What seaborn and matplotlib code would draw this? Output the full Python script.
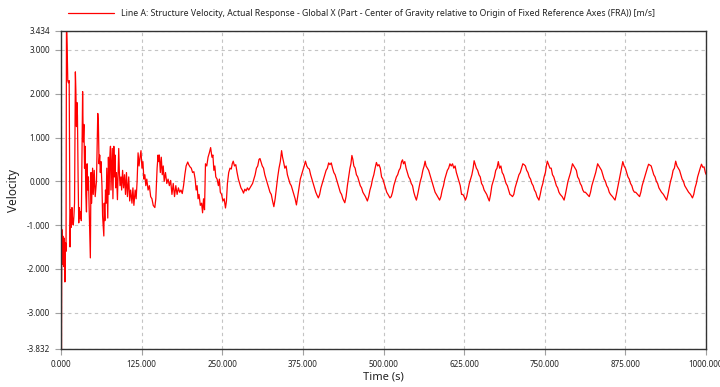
import matplotlib
matplotlib.use("Agg")
import matplotlib.pyplot as plt
import seaborn as sns
import pandas as pd

# ---------------- data ----------------
t1 = [0, 0.7, 1.3, 2.0, 2.8, 3.6, 4.4, 5.2, 6.0, 7.0,
      7.8, 8.5, 9.5, 10.5, 11.5, 12.7, 13.3, 14.0, 15.0, 16.0,
      17.0, 18.0, 19.0, 20.0, 21.0, 22.3, 23.0, 24.0, 24.7, 25.5,
      26.5, 27.5, 28.5, 29.5, 30.5, 31.5, 33.5, 34.5, 35.5, 36.5,
      37.5, 38.5, 39.5, 40.5, 41.5, 42.5, 43.5, 45.5, 46.5, 47.5,
      49.0, 50.0, 51.5, 53.0, 55.0, 57.0, 58.0, 59.0, 60.0, 61.0,
      62.0, 63.5, 64.5, 66.4, 67.0, 68.0, 69.0, 70.0, 71.0, 72.5,
      73.5, 74.5, 75.5, 76.7, 77.5, 78.5, 79.5, 80.5, 81.9, 82.8,
      83.8, 84.8, 86.0, 87.5, 89.5, 90.5, 91.5, 93.0, 94.0, 95.5,
      97.0, 98.5, 100.0, 101.5, 103.0, 105.0, 106.5, 108.0, 110.0, 111.5,
      113.0, 115.0, 116.5, 118.0, 119.5, 121.0, 122.5, 124.0]
v1 = [0.05, -3.95, -1.1, -1.9, -1.25, -1.4, -1.95, -1.3, -2.3, -1.4,
      -1.6, 3.7, 3.1, 2.3, 2.25, 2.3, 0.4, -1.5, -0.65, -1.05,
      -0.6, -0.9, -1.0, -0.8, -0.5, 2.5, 2.1, 1.25, 1.8, 1.5,
      0.1, -0.95, -0.6, -0.85, -0.7, -0.9, 2.05, 0.9, 1.3, 0.3,
      0.8, -0.3, -0.7, 0.4, -0.2, 0.1, -0.5, -1.75, 0.2, -0.5,
      0.3, -0.3, 0.25, -0.35, 0.0, 1.55, 1.3, 0.4, 0.6, 0.2,
      0.45, -0.1, -0.8, -1.25, -0.5, -0.9, -0.2, -0.5, 0.3, -0.84,
      0.55, -0.3, 0.5, 0.8, -0.2, 0.3, 0.75, -0.4, 0.8, 0.1,
      0.6, -0.15, 0.2, -0.42, 0.75, 0.2, -0.1, 0.1, -0.2, 0.25,
      -0.15, 0.15, -0.3, 0.2, -0.35, 0.1, -0.45, -0.2, -0.5, -0.15,
      -0.55, -0.2, -0.4, 0.0, 0.65, 0.35, 0.55, 0.7]

t2 = [125.5, 127, 128.5, 130, 131.5, 133, 135, 137, 139, 141,
      143, 145.5, 147, 149, 150.5, 151.5, 152.5, 154, 155.5, 157,
      158.5, 160, 162, 164, 166, 168, 170, 172, 174, 176,
      178, 180, 182, 184, 186, 188, 190, 192, 194, 196.5,
      198, 200, 202, 204, 206, 208, 209.5, 211, 212.5, 214,
      216, 218, 219.5, 221, 222.5, 224, 226, 228, 230]
v2 = [0.3, 0.45, 0.05, 0.15, -0.1, 0.05, -0.2, -0.1, -0.35, -0.4,
      -0.55, -0.6, -0.4, 0.3, 0.6, 0.45, 0.6, 0.2, 0.55, 0.15,
      0.35, 0.0, 0.2, -0.05, 0.05, -0.1, 0.02, -0.3, -0.05, -0.35,
      -0.1, -0.3, -0.15, -0.25, -0.2, -0.28, -0.1, 0.15, 0.35, 0.44,
      0.38, 0.33, 0.3, 0.2, 0.22, 0.05, -0.2, -0.1, -0.4, -0.3,
      -0.55, -0.5, -0.72, -0.4, -0.65, 0.4, 0.35, 0.55, 0.65]

t3a = [232, 234, 235.5, 237, 238.5, 240, 242, 244, 245.5, 247,
       249, 251, 253, 255, 256.5, 258, 260, 262, 264, 265.5,
       267, 269, 271, 273, 275, 277, 279, 281, 283, 285,
       287, 289, 291, 293, 295, 297, 299, 301, 303, 305,
       307, 308.5, 310, 312, 314, 316, 318, 320, 322, 324,
       326, 328, 330, 332, 334, 336, 338, 340, 342, 343.5,
       345, 347, 349, 351, 353, 355, 357, 359, 361, 363,
       365, 367, 369, 371, 373, 375, 377, 379, 381, 383,
       385, 387, 389, 391, 393, 395, 397, 399, 401, 403,
       405, 407, 409, 411, 413, 415, 417, 419, 421, 423,
       425, 427, 429, 431, 433, 435, 437, 440]
v3a = [0.77, 0.55, 0.6, 0.25, 0.35, 0.1, 0.05, -0.1, 0.05, -0.25,
       -0.3, -0.45, -0.4, -0.61, -0.45, -0.05, 0.2, 0.3, 0.28, 0.4,
       0.46, 0.35, 0.38, 0.2, 0.05, -0.05, -0.15, -0.2, -0.27, -0.18,
       -0.22, -0.15, -0.2, -0.15, -0.1, -0.05, 0.05, 0.15, 0.3, 0.35,
       0.5, 0.52, 0.45, 0.35, 0.3, 0.15, 0.05, -0.05, -0.15, -0.25,
       -0.3, -0.45, -0.58, -0.4, -0.15, 0.1, 0.3, 0.45, 0.7, 0.55,
       0.45, 0.3, 0.35, 0.15, 0.05, -0.05, -0.1, -0.2, -0.3, -0.4,
       -0.54, -0.35, -0.15, 0.05, 0.15, 0.25, 0.35, 0.46, 0.35, 0.3,
       0.28, 0.15, 0.05, -0.05, -0.15, -0.25, -0.32, -0.38, -0.3, -0.15,
       -0.05, 0.05, 0.15, 0.25, 0.3, 0.42, 0.38, 0.42, 0.3, 0.2,
       0.15, 0.05, -0.05, -0.15, -0.25, -0.3, -0.4, -0.49]

t3b = [442, 444, 446, 448, 449.5, 451, 452.5, 454, 456, 458,
       460, 462, 464, 466, 468, 470, 472, 475, 477, 479,
       481, 483, 485, 487, 489, 491, 493, 495, 497, 499,
       501, 503, 505, 507, 510, 512, 514, 516, 518, 520,
       522, 524, 526, 528, 529.5, 531, 533, 535, 537, 539,
       541, 543, 545, 547, 549, 551, 553, 555, 557, 559,
       561, 563, 564.5, 566, 568, 570, 572, 574, 576, 578,
       580, 582, 585, 587, 589, 591, 593, 595, 597, 599,
       601, 603, 605, 607, 609, 611, 613, 615, 617, 619,
       621, 623, 625, 627, 629, 631, 633, 635, 637, 639,
       640.5, 642, 644, 646, 648, 650, 652, 654, 656, 658,
       660, 662, 664, 666, 668, 670, 672, 674, 676, 678,
       680, 682, 684, 686, 688, 690, 692, 694, 696, 698, 700]
v3b = [-0.35, -0.1, 0.1, 0.3, 0.4, 0.59, 0.5, 0.35, 0.3, 0.15,
       0.1, 0.0, -0.1, -0.15, -0.25, -0.3, -0.35, -0.45, -0.35, -0.2,
       -0.1, 0.05, 0.15, 0.3, 0.43, 0.35, 0.38, 0.3, 0.1, 0.05,
       -0.05, -0.15, -0.25, -0.3, -0.38, -0.35, -0.25, -0.1, 0.0, 0.1,
       0.15, 0.25, 0.3, 0.45, 0.49, 0.4, 0.45, 0.3, 0.2, 0.1,
       0.05, -0.05, -0.1, -0.25, -0.35, -0.43, -0.3, -0.15, 0.0, 0.1,
       0.25, 0.35, 0.46, 0.35, 0.3, 0.25, 0.15, 0.05, -0.05, -0.15,
       -0.25, -0.3, -0.38, -0.43, -0.35, -0.2, -0.1, 0.05, 0.15, 0.25,
       0.3, 0.4, 0.35, 0.4, 0.3, 0.35, 0.2, 0.1, 0.0, -0.1,
       -0.3, -0.3, -0.35, -0.43, -0.35, -0.2, -0.05, 0.05, 0.15, 0.3,
       0.47, 0.4, 0.3, 0.25, 0.15, 0.1, -0.05, -0.1, -0.2, -0.25,
       -0.3, -0.38, -0.45, -0.3, -0.1, 0.0, 0.1, 0.25, 0.3, 0.45,
       0.3, 0.35, 0.2, 0.15, 0.05, -0.05, -0.1, -0.2, -0.3, -0.32, -0.35]

t3c = [702, 704, 706, 708, 710, 712, 714, 716, 718, 720,
       722, 724, 726, 728, 730, 732, 734, 736, 738, 741,
       743, 745, 747, 749, 751, 752.5, 754, 756, 758, 760,
       762, 764, 766, 768, 770, 772, 774, 777, 780, 782,
       784, 786, 788, 790, 791.5, 793, 795, 797, 799, 801,
       803, 805, 807, 809, 811, 813, 816, 819, 821, 823,
       825, 827, 829, 830.5, 832, 834, 836, 838, 840, 842,
       844, 846, 848, 850, 852, 855, 859, 861, 863, 865,
       867, 869, 871, 873, 875, 877, 879, 881, 883, 885,
       887, 889, 891, 894, 897, 899, 901, 903, 905, 907,
       909, 911, 913, 915, 917, 919, 921, 923, 925, 927,
       929, 931, 934, 937, 939, 941, 943, 945, 947, 949,
       951, 953, 955, 957, 959, 961, 963, 965, 967, 969,
       971, 973, 976, 979, 981, 983, 985, 987, 989, 991,
       993, 995, 997, 999, 1000]
v3c = [-0.3, -0.15, -0.05, 0.05, 0.15, 0.2, 0.3, 0.4, 0.38, 0.35,
       0.25, 0.2, 0.1, 0.05, -0.05, -0.1, -0.2, -0.25, -0.35, -0.43,
       -0.3, -0.15, -0.05, 0.1, 0.2, 0.35, 0.46, 0.38, 0.3, 0.3,
       0.15, 0.1, 0.0, -0.1, -0.15, -0.25, -0.3, -0.35, -0.43, -0.3,
       -0.15, 0.0, 0.1, 0.2, 0.3, 0.4, 0.35, 0.3, 0.25, 0.1,
       0.05, -0.05, -0.1, -0.2, -0.25, -0.25, -0.3, -0.35, -0.25, -0.1,
       0.0, 0.1, 0.2, 0.3, 0.4, 0.35, 0.3, 0.25, 0.15, 0.05,
       0.0, -0.1, -0.15, -0.25, -0.3, -0.35, -0.43, -0.3, -0.15, 0.0,
       0.15, 0.3, 0.45, 0.35, 0.3, 0.2, 0.1, 0.05, -0.05, -0.1,
       -0.2, -0.25, -0.25, -0.3, -0.35, -0.25, -0.1, 0.0, 0.1, 0.2,
       0.3, 0.39, 0.37, 0.35, 0.25, 0.15, 0.1, 0.0, -0.05, -0.15,
       -0.2, -0.25, -0.3, -0.38, -0.43, -0.3, -0.15, 0.0, 0.1, 0.25,
       0.3, 0.46, 0.35, 0.3, 0.25, 0.15, 0.05, 0.0, -0.1, -0.15,
       -0.2, -0.25, -0.3, -0.38, -0.3, -0.15, -0.05, 0.1, 0.2, 0.3,
       0.39, 0.32, 0.33, 0.2, 0.16]

x_ticks = [0, 125, 250, 375, 500, 625, 750, 875, 1000]
y_ticks = [-3.832, -3.0, -2.0, -1.0, 0.0, 1.0, 2.0, 3.0, 3.434]
y_min, y_max = -3.832, 3.434
series_label = ("Line A: Structure Velocity, Actual Response - Global X "
                "(Part - Center of Gravity relative to Origin of Fixed "
                "Reference Axes (FRA)) [m/s]")

# ---------------- build table ----------------
times = t1 + t2 + t3a + t3b + t3c
vels = v1 + v2 + v3a + v3b + v3c
df = pd.DataFrame({"Time (s)": times, "Velocity": vels})

# ---------------- style ----------------
sns.set_style("white")
plt.rcParams["font.family"] = ["Noto Sans", "DejaVu Sans"]

fig = plt.figure(figsize=(7.2, 3.87), dpi=100)
ax = fig.add_axes([61 / 720, 1 - 349 / 387, (706 - 61) / 720, (349 - 31) / 387])

sns.lineplot(data=df, x="Time (s)", y="Velocity", ax=ax, color="#ff0000",
             linewidth=0.9, sort=False, estimator=None, label=series_label,
             legend=False)

ax.set_xlim(0, 1000)
ax.set_ylim(y_min, y_max)
ax.set_xticks(x_ticks)
ax.set_xticklabels([f"{v:.3f}" for v in x_ticks])
ax.set_yticks(y_ticks)
ax.set_yticklabels([f"{v:.3f}" for v in y_ticks])

ax.grid(True, color="#c4c4c4", linestyle=(0, (3, 3)), linewidth=0.8)
ax.set_axisbelow(True)
for s in ax.spines.values():
    s.set_visible(True)
    s.set_color("#333333")
    s.set_linewidth(1.0)

ax.tick_params(axis="both", which="major", length=4, width=0.8,
               color="#a0a0a0", labelsize=5.8, labelcolor="#222222",
               direction="out", left=True, bottom=True, pad=4)
ax.tick_params(axis="x", pad=4)

ax.set_xlabel("Time (s)", fontsize=8, color="#222222", labelpad=2)
ax.set_ylabel("Velocity", fontsize=8.5, color="#222222", labelpad=5)

handles = ax.get_lines()[:1]
fig.legend(handles, [series_label], loc="center left",
           bbox_to_anchor=(68 / 720, 1 - 14 / 387), frameon=False,
           fontsize=6.25, handlelength=5.3, handletextpad=0.8,
           borderpad=0, borderaxespad=0, labelcolor="#222222")

fig.savefig("out.png", dpi=100)
